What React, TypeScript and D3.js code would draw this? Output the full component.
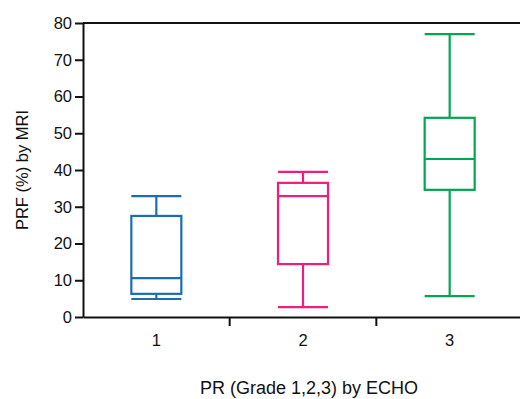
import React, { useEffect, useRef } from 'react';
import * as d3 from 'd3';

// grade categories and box statistics
const grades = ['1', '2', '3'];
const mins = [4.9, 2.7, 5.7];
const q1s = [6.3, 14.4, 34.6];
const medians = [10.6, 32.9, 43.0];
const q3s = [27.5, 36.5, 54.2];
const maxs = [32.9, 39.5, 77.0];
const colors = ['#1a6db5', '#ec1e82', '#00a651'];
const yTicks = [0, 10, 20, 30, 40, 50, 60, 70, 80];

const App = () => {
  const ref = useRef<SVGSVGElement>(null);

  useEffect(() => {
    const svg = d3.select(ref.current);
    svg.selectAll('*').remove();

    const left = 83;
    const top = 23;
    const bottom = 317;
    const right = 523;

    const x = d3.scaleBand<string>().domain(grades).range([left, right]);
    const y = d3.scaleLinear().domain([0, 80]).range([bottom, top]);
    const font = 'Liberation Sans, Arial, sans-serif';

    // y axis
    const yAxis = svg.append('g')
      .attr('transform', `translate(${left},0)`)
      .call(d3.axisLeft(y).tickValues(yTicks).tickSize(8).tickPadding(3).tickSizeOuter(0));
    yAxis.select('.domain').attr('stroke', '#111').attr('stroke-width', 2);
    yAxis.selectAll('.tick line').attr('stroke', '#111').attr('stroke-width', 2);
    yAxis.selectAll('.tick text').attr('font-size', 16.5).attr('font-family', font).attr('fill', '#111');

    // x axis, ticks at band boundaries
    const xAxis = svg.append('g')
      .attr('transform', `translate(0,${bottom})`)
      .call(d3.axisBottom(x).tickSize(0).tickPadding(17).tickSizeOuter(0));
    xAxis.select('.domain').attr('stroke', '#111').attr('stroke-width', 2);
    xAxis.selectAll('.tick text').attr('font-size', 16.5).attr('font-family', font).attr('fill', '#111');
    xAxis.selectAll('.sep')
      .data(grades.slice(1))
      .enter().append('line')
      .attr('x1', d => x(d)!)
      .attr('x2', d => x(d)!)
      .attr('y1', 0)
      .attr('y2', 9)
      .attr('stroke', '#111')
      .attr('stroke-width', 2);

    // top frame line
    svg.append('line')
      .attr('x1', left).attr('x2', right)
      .attr('y1', top).attr('y2', top)
      .attr('stroke', '#111').attr('stroke-width', 2);

    // boxes
    const boxW = 50;
    grades.forEach((g, i) => {
      const cx = x(g)! + x.bandwidth() / 2;
      const grp = svg.append('g')
        .attr('stroke', colors[i])
        .attr('stroke-width', 2.2)
        .attr('fill', 'none');
      grp.append('line').attr('x1', cx).attr('x2', cx).attr('y1', y(maxs[i])).attr('y2', y(q3s[i]));
      grp.append('line').attr('x1', cx).attr('x2', cx).attr('y1', y(q1s[i])).attr('y2', y(mins[i]));
      grp.append('line').attr('x1', cx - boxW / 2).attr('x2', cx + boxW / 2).attr('y1', y(maxs[i])).attr('y2', y(maxs[i]));
      grp.append('line').attr('x1', cx - boxW / 2).attr('x2', cx + boxW / 2).attr('y1', y(mins[i])).attr('y2', y(mins[i]));
      grp.append('rect')
        .attr('x', cx - boxW / 2)
        .attr('y', y(q3s[i]))
        .attr('width', boxW)
        .attr('height', y(q1s[i]) - y(q3s[i]));
      grp.append('line').attr('x1', cx - boxW / 2).attr('x2', cx + boxW / 2).attr('y1', y(medians[i])).attr('y2', y(medians[i]));
    });

    // axis titles
    svg.append('text')
      .attr('transform', `translate(28,${(top + bottom) / 2}) rotate(-90)`)
      .attr('text-anchor', 'middle')
      .attr('font-size', 16.5)
      .attr('font-family', font)
      .attr('fill', '#111')
      .text('PRF (%) by MRI');

    svg.append('text')
      .attr('x', 309)
      .attr('y', 394)
      .attr('text-anchor', 'middle')
      .attr('font-size', 18)
      .attr('font-family', font)
      .attr('fill', '#111')
      .text('PR (Grade 1,2,3) by ECHO');
  }, []);

  return (
    <svg ref={ref} width={520} height={399}
      style={{ position: 'absolute', left: 0, top: 0, background: '#fff' }} />
  );
};

export default App;
